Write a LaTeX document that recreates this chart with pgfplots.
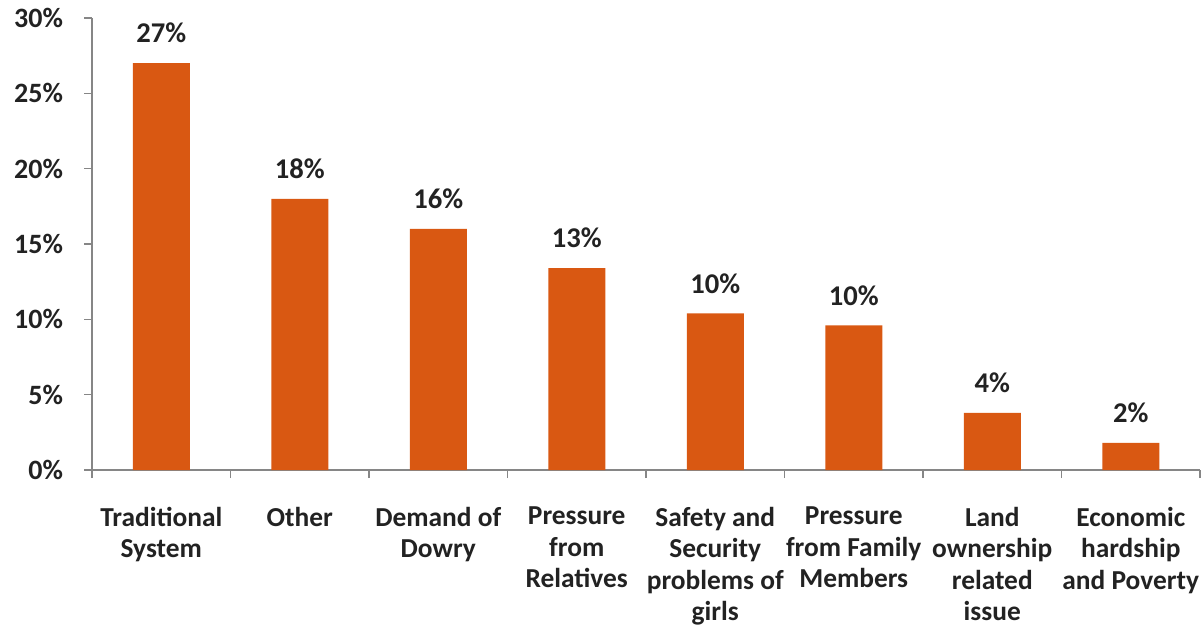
\documentclass[border=0pt]{standalone}
\usepackage{pgfplots}
\pgfplotsset{compat=1.18}
\usepackage{fontspec}
\setmainfont{Carlito}
\definecolor{barorange}{RGB}{217,88,18}
\definecolor{labelgray}{RGB}{34,34,34}
\definecolor{axisgray}{RGB}{134,134,134}
\begin{document}
\begin{tikzpicture}
\begin{axis}[
  scale only axis,
  width=554pt, height=226pt,
  ymin=0, ymax=30,
  xmin=-0.5, xmax=7.5,
  ybar, bar width=28.5pt,
  axis x line*=bottom, axis y line*=left,
  axis line style={axisgray, line width=0.8pt},
  ytick={0,5,...,30},
  yticklabel={\pgfmathprintnumber{\tick}\%},
  /pgf/number format/assume math mode=true,
  xtick={0,...,7},
  xticklabels={Traditional\\System, Other, Demand of\\Dowry, Pressure\\from\\Relatives, Safety and\\Security\\problems of\\girls, Pressure\\from Family\\Members, Land\\ownership\\related\\issue, Economic\\hardship\\and Poverty},
  major x tick style={draw=none},
  minor xtick={-0.5,0.5,...,7.5},
  minor tick length=4pt,
  major tick length=4pt,
  tick align=outside,
  tick style={axisgray, line width=0.8pt},
  ticklabel style={font=\fontsize{14}{16}\selectfont\bfseries, text=labelgray},
  x tick label style={align=center, yshift=-11pt, font=\fontsize{13.7}{15.7}\selectfont\bfseries},
  y tick label style={xshift=-7pt},
  nodes near coords={\pgfmathprintnumber[fixed,precision=0]{\pgfplotspointmeta}\%},
  every node near coord/.append style={font=\fontsize{14.3}{16}\selectfont\bfseries, text=labelgray, yshift=6.5pt},
  clip=false,
]
\addplot[fill=barorange, draw=none] coordinates {
  (0,27.0) (1,18.0) (2,16.0) (3,13.4) (4,10.4) (5,9.6) (6,3.8) (7,1.8)
};
\coordinate (bl) at (rel axis cs:0,0);
\coordinate (tr) at (rel axis cs:1,1);
\end{axis}
\pgfresetboundingbox
\path[use as bounding box] ([shift={(-46pt,-80pt)}]bl) rectangle ([shift={(1.5pt,9pt)}]tr);
\end{tikzpicture}
\end{document}
